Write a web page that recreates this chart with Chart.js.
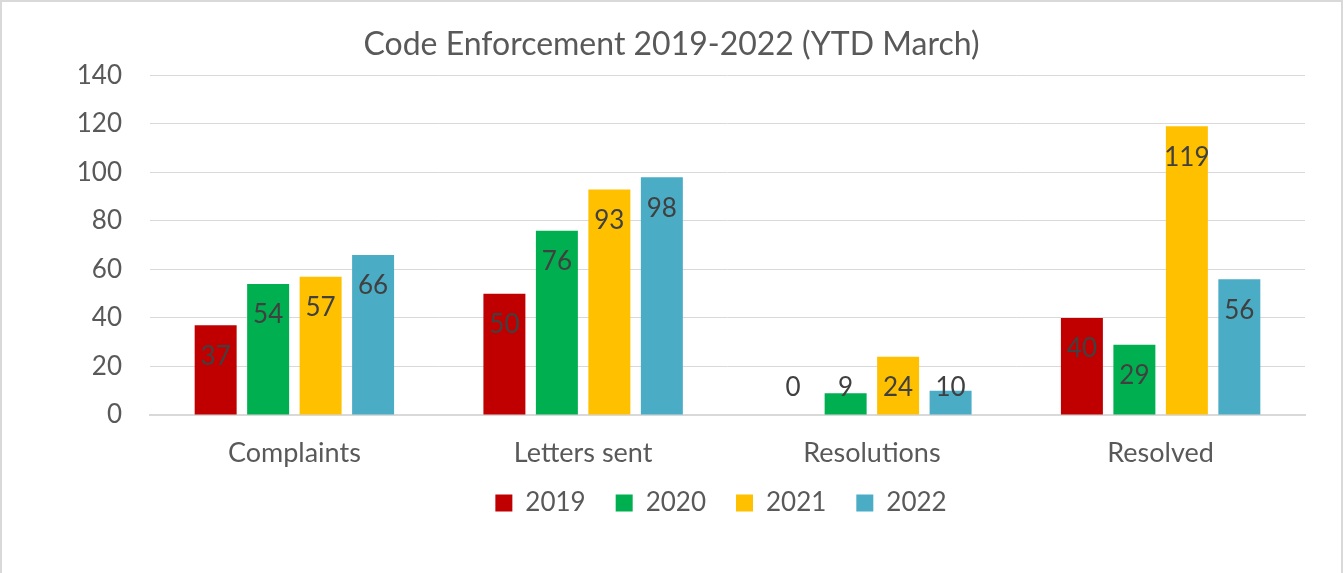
<!DOCTYPE html>
<html>
<head>
<meta charset="utf-8">
<script src="https://cdn.jsdelivr.net/npm/chart.js@4.4.0/dist/chart.umd.min.js"></script>
<style>
    html, body { margin: 0; padding: 0; background: #fff; }
    #wrap { position: relative; width: 1343px; height: 573px; }
</style>
</head>
<body>
<div id="wrap"><canvas id="chart"></canvas></div>
<script>
const categories = ['Complaints', 'Letters sent', 'Resolutions', 'Resolved'];
const years = ['2019', '2020', '2021', '2022'];
const values2019 = [37, 50, 0, 40];
const values2020 = [54, 76, 9, 29];
const values2021 = [57, 93, 24, 119];
const values2022 = [66, 98, 10, 56];
const colors = ['#C00000', '#00B050', '#FFC000', '#4BACC6'];

const FONT = 'Lato, "Noto Sans", sans-serif';

// labels sit just inside the top of each bar, but never lower than a fixed line above the axis
const barLabels = {
    id: 'barLabels',
    afterDatasetsDraw(chart) {
        const ctx = chart.ctx;
        const base = chart.scales.y.getPixelForValue(0);
        ctx.save();
        ctx.font = '26px ' + FONT;
        ctx.fillStyle = '#404040';
        ctx.textAlign = 'center';
        ctx.textBaseline = 'middle';
        chart.data.datasets.forEach((ds, i) => {
            chart.getDatasetMeta(i).data.forEach((bar, j) => {
                const y = Math.min(bar.y + 31, base - 27);
                ctx.fillText(String(ds.data[j]), bar.x, y);
            });
        });
        ctx.restore();
    }
};

// title centred on the whole canvas, legend centred under the plot
const recenter = {
    id: 'recenter',
    afterLayout(chart) {
        const t = chart.titleBlock;
        if (t) { t.left = 0; t.right = chart.width; t.width = chart.width; }
        const l = chart.legend;
        if (l) {
            const dx = 721 - (l.left + l.right) / 2;
            l.left += dx;
            l.right += dx;
            const dy = 503 - (l.top + 43);
            l.top += dy;
            l.bottom += dy;
        }
    }
};

const frame = {
    id: 'frame',
    afterDraw(chart) {
        const ctx = chart.ctx;
        ctx.save();
        ctx.strokeStyle = '#d9d9d9';
        ctx.lineWidth = 2;
        ctx.beginPath();
        ctx.moveTo(1, chart.height);
        ctx.lineTo(1, 1);
        ctx.lineTo(chart.width - 1, 1);
        ctx.lineTo(chart.width - 1, chart.height);
        ctx.stroke();
        ctx.restore();
    }
};

const datasets = [values2019, values2020, values2021, values2022].map((data, i) => ({
    label: years[i],
    data: data,
    backgroundColor: colors[i],
    borderWidth: 0,
    barPercentage: 0.8,
    categoryPercentage: 0.727
}));

new Chart(document.getElementById('chart'), {
    type: 'bar',
    data: { labels: categories, datasets: datasets },
    plugins: [barLabels, recenter, frame],
    options: {
        responsive: true,
        maintainAspectRatio: false,
        animation: false,
        layout: { padding: { left: 0, right: 38, top: 0, bottom: 32 } },
        plugins: {
            title: {
                display: true,
                text: 'Code Enforcement 2019-2022 (YTD March)',
                color: '#595959',
                font: { family: FONT, size: 32, weight: 'normal' },
                padding: { top: 25, bottom: 12 }
            },
            legend: {
                position: 'bottom',
                labels: {
                    color: '#595959',
                    font: { family: FONT, size: 26 },
                    boxWidth: 17,
                    boxHeight: 17,
                    padding: 30
                }
            },
            tooltip: { enabled: false }
        },
        scales: {
            x: {
                grid: { display: false },
                border: { color: '#d9d9d9', width: 2 },
                ticks: { color: '#595959', font: { family: FONT, size: 27 }, padding: 14 },
                afterFit: (scale) => { scale.height = 60; }
            },
            y: {
                min: 0,
                max: 140,
                border: { display: false },
                grid: { color: '#d9d9d9', lineWidth: 1, drawTicks: false },
                ticks: { stepSize: 20, color: '#595959', font: { family: FONT, size: 26 }, padding: 28 },
                afterFit: (scale) => { scale.width = 150; }
            }
        }
    }
});
</script>
</body>
</html>
